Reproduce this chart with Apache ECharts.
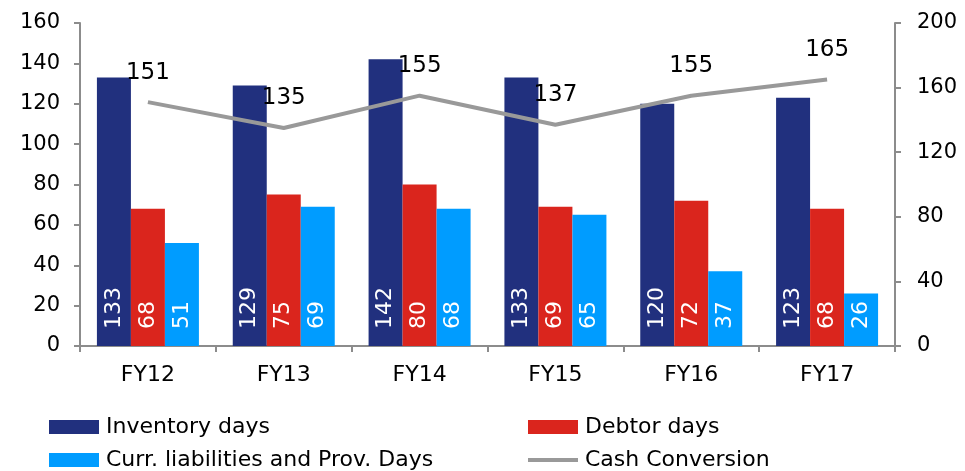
<!DOCTYPE html>
<html>
<head>
<meta charset="utf-8">
<script src="https://cdn.jsdelivr.net/npm/echarts@6/dist/echarts.min.js"></script>
<style>
  html, body { margin: 0; padding: 0; background: #fff; }
  #myChart { width: 965px; height: 471px; }
</style>
</head>
<body>
<div id="myChart"></div>
<script>
  // 数据
  var categories = ['FY12', 'FY13', 'FY14', 'FY15', 'FY16', 'FY17'];
  var inventoryDays = [133, 129, 142, 133, 120, 123];
  var debtorDays = [68, 75, 80, 69, 72, 68];
  var currLiabDays = [51, 69, 68, 65, 37, 26];
  var cashConversion = [151, 135, 155, 137, 155, 165];
  var seriesNames = ['Inventory days', 'Debtor days', 'Curr. liabilities and Prov. Days', 'Cash Conversion'];

  var font = 'DejaVu Sans';
  var axisColor = '#8c8c8c';

  function barLabel() {
    return {
      show: true,
      position: 'insideBottom',
      rotate: 90,
      align: 'left',
      verticalAlign: 'middle',
      distance: 17,
      color: '#fff',
      fontFamily: font,
      fontSize: 22
    };
  }

  function legendAt(name, left, top, h) {
    return {
      data: [name],
      left: left,
      top: top,
      icon: 'rect',
      itemWidth: 50,
      itemHeight: h,
      itemGap: 0,
      padding: 0,
      textStyle: { fontFamily: font, fontSize: 22, color: '#000', padding: [0, 0, 0, 2] }
    };
  }

  var myChart = echarts.init(document.getElementById('myChart'));
  var option = {
    animation: false,
    legend: [
      legendAt(seriesNames[0], 49, 416, 14),
      legendAt(seriesNames[1], 528, 416, 14),
      legendAt(seriesNames[2], 49, 449, 14),
      legendAt(seriesNames[3], 528, 449, 4)
    ],
    grid: { left: 80, right: 70, top: 23, bottom: 125 },
    xAxis: {
      type: 'category',
      data: categories,
      axisLine: { lineStyle: { color: axisColor, width: 2 } },
      axisTick: { show: true, length: 6, lineStyle: { color: axisColor, width: 2 } },
      axisLabel: { fontFamily: font, fontSize: 22, color: '#000', margin: 18 }
    },
    yAxis: [
      {
        type: 'value', min: 0, max: 160, interval: 20,
        splitLine: { show: false },
        axisLine: { show: true, lineStyle: { color: axisColor, width: 2 } },
        axisTick: { show: true, length: 6, lineStyle: { color: axisColor, width: 2 } },
        axisLabel: { fontFamily: font, fontSize: 21, color: '#000', margin: 20 }
      },
      {
        type: 'value', min: 0, max: 200, interval: 40,
        splitLine: { show: false },
        axisLine: { show: true, lineStyle: { color: axisColor, width: 2 } },
        axisTick: { show: true, length: 6, lineStyle: { color: axisColor, width: 2 } },
        axisLabel: { fontFamily: font, fontSize: 21, color: '#000', margin: 22 }
      }
    ],
    series: [
      { name: seriesNames[0], type: 'bar', data: inventoryDays, barWidth: 34, barGap: '0%',
        itemStyle: { color: '#21307e' }, label: barLabel() },
      { name: seriesNames[1], type: 'bar', data: debtorDays, barWidth: 34, barGap: '0%',
        itemStyle: { color: '#da251d' }, label: barLabel() },
      { name: seriesNames[2], type: 'bar', data: currLiabDays, barWidth: 34, barGap: '0%',
        itemStyle: { color: '#009cff' }, label: barLabel() },
      { name: seriesNames[3], type: 'line', yAxisIndex: 1, data: cashConversion,
        showSymbol: true, symbol: 'circle', symbolSize: 0.1,
        itemStyle: { color: '#999999' },
        lineStyle: { color: '#999999', width: 4 },
        label: { show: true, position: 'top', distance: 18, color: '#000', fontFamily: font, fontSize: 23 },
        z: 5 }
    ]
  };
  myChart.setOption(option);
</script>
</body>
</html>
